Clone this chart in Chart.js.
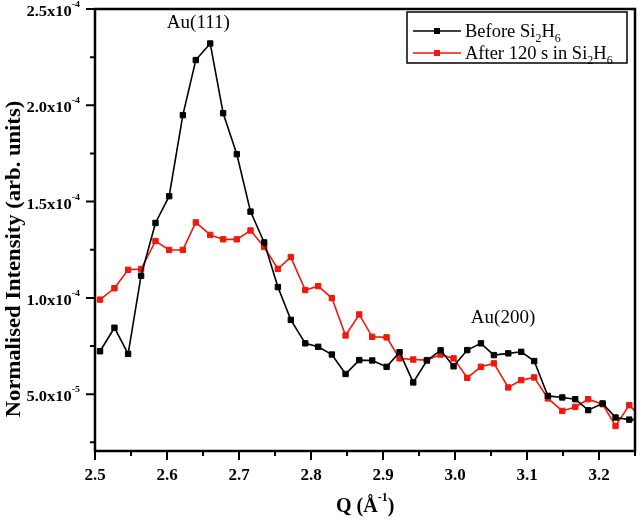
<!DOCTYPE html>
<html>
<head>
<meta charset="utf-8">
<script src="https://cdn.jsdelivr.net/npm/chart.js@4.4.0/dist/chart.umd.min.js"></script>
<style>
  html, body { margin: 0; padding: 0; background: #fff; }
  canvas { display: block; }
</style>
</head>
<body>
<canvas id="xrd-chart" width="640" height="519"></canvas>
<script>
// Q in 1/Angstrom, intensities in units of 1e-5
const qValues = [2.507, 2.527, 2.546, 2.564, 2.584, 2.603, 2.622, 2.640, 2.660, 2.678,
    2.697, 2.716, 2.735, 2.754, 2.772, 2.792, 2.810, 2.829, 2.848, 2.867,
    2.885, 2.905, 2.923, 2.942, 2.961, 2.980, 2.998, 3.017, 3.036, 3.054,
    3.074, 3.092, 3.110, 3.129, 3.149, 3.167, 3.185, 3.205, 3.223, 3.242, 3.261];
const beforeSi2H6 = [7.23, 8.45, 7.09, 11.15, 13.89, 15.28, 19.49, 22.35, 23.21, 19.59,
    17.46, 14.48, 12.88, 10.56, 8.86, 7.64, 7.46, 7.06, 6.05, 6.77,
    6.75, 6.42, 7.18, 5.61, 6.75, 7.28, 6.45, 7.29, 7.64, 7.03,
    7.12, 7.20, 6.72, 4.91, 4.83, 4.74, 4.17, 4.52, 3.79, 3.68, 3.68];
const after120s = [9.91, 10.50, 11.46, 11.50, 12.95, 12.49, 12.49, 13.92, 13.27, 13.04,
    13.04, 13.50, 12.64, 11.51, 12.12, 10.41, 10.61, 9.99, 8.05, 9.14,
    7.98, 7.95, 6.86, 6.80, 6.77, 7.06, 6.86, 5.85, 6.42, 6.60,
    5.35, 5.73, 5.87, 4.78, 4.13, 4.34, 4.74, 4.48, 3.35, 4.43, 3.70];
const seriesNames = ['Before Si_{2}H_{6}', 'After 120 s in Si_{2}H_{6}'];
const seriesColors = ['#000000', '#f0180c'];

const xMajorTicks = [2.5, 2.6, 2.7, 2.8, 2.9, 3.0, 3.1, 3.2];
const xTickLabels = ['2.5', '2.6', '2.7', '2.8', '2.9', '3.0', '3.1', '3.2'];
const xMinorTicks = [2.55, 2.65, 2.75, 2.85, 2.95, 3.05, 3.15, 3.25];
const yMajorTicks = [5e-5, 1e-4, 1.5e-4, 2e-4, 2.5e-4];
const yTickLabels = ['5.0x10^{-5}', '1.0x10^{-4}', '1.5x10^{-4}', '2.0x10^{-4}', '2.5x10^{-4}'];
const yMinorTicks = [2.5e-5, 7.5e-5, 1.25e-4, 1.75e-4, 2.25e-4];

const peakLabels = ['Au(111)', 'Au(200)'];
const peakLabelQ = [2.6435, 3.0667];
const peakLabelY = [24.3, 9.0];

const xTitle = 'Q (Å^{-1})';
const yTitle = 'Normalised Intensity (arb. units)';

const serif = '"Liberation Serif", "Times New Roman", serif';

function toPoints(values) {
    return values.map((v, i) => ({ x: qValues[i], y: v * 1e-5 }));
}

function parseRich(str) {
    const parts = [];
    const re = /([\^_])\{([^}]*)\}/g;
    let last = 0, m;
    while ((m = re.exec(str))) {
        if (m.index > last) parts.push({ text: str.slice(last, m.index), kind: 'base' });
        parts.push({ text: m[2], kind: m[1] === '^' ? 'sup' : 'sub' });
        last = re.lastIndex;
    }
    if (last < str.length) parts.push({ text: str.slice(last), kind: 'base' });
    return parts;
}

function drawRich(ctx, str, x, y, style) {
    const parts = parseRich(str);
    const fontFor = k => `${style.weight} ${k === 'base' ? style.size : style.small}px ${serif}`;
    let width = 0;
    parts.forEach(p => {
        ctx.font = fontFor(p.kind);
        p.w = ctx.measureText(p.text).width;
        width += p.w;
    });
    let cx = style.align === 'right' ? -width : style.align === 'center' ? -width / 2 : 0;
    ctx.save();
    ctx.translate(x, y);
    if (style.rotate) ctx.rotate(style.rotate);
    ctx.scale(style.stretch || 1, 1);
    ctx.fillStyle = '#000';
    ctx.textAlign = 'left';
    ctx.textBaseline = 'alphabetic';
    parts.forEach(p => {
        ctx.font = fontFor(p.kind);
        const dy = p.kind === 'sup' ? -(style.rise || 0) : p.kind === 'sub' ? (style.drop || 0) : 0;
        ctx.fillText(p.text, cx, dy);
        cx += p.w;
    });
    ctx.restore();
}

const framePlugin = {
    id: 'frame',
    afterDraw(chart) {
        const { ctx, chartArea: a, scales: { x, y } } = chart;
        ctx.save();
        ctx.strokeStyle = '#000';

        // ticks, outward
        ctx.lineWidth = 2;
        ctx.beginPath();
        xMajorTicks.forEach(v => {
            const px = x.getPixelForValue(v);
            ctx.moveTo(px, a.bottom); ctx.lineTo(px, a.bottom + 9);
        });
        xMinorTicks.forEach(v => {
            const px = x.getPixelForValue(v);
            ctx.moveTo(px, a.bottom); ctx.lineTo(px, a.bottom + 5);
        });
        yMajorTicks.forEach(v => {
            const py = y.getPixelForValue(v);
            ctx.moveTo(a.left, py); ctx.lineTo(a.left - 9, py);
        });
        yMinorTicks.forEach(v => {
            const py = y.getPixelForValue(v);
            ctx.moveTo(a.left, py); ctx.lineTo(a.left - 5, py);
        });
        ctx.stroke();

        ctx.lineWidth = 2.5;
        ctx.strokeRect(a.left, a.top, a.right - a.left, a.bottom - a.top);

        // tick labels
        ctx.fillStyle = '#000';
        ctx.font = `bold 17px ${serif}`;
        ctx.textAlign = 'center';
        ctx.textBaseline = 'alphabetic';
        xMajorTicks.forEach((v, i) => {
            ctx.fillText(xTickLabels[i], x.getPixelForValue(v), a.bottom + 28.5);
        });
        yMajorTicks.forEach((v, i) => {
            const py = y.getPixelForValue(v);
            drawRich(ctx, yTickLabels[i], 80, py + 7,
                { weight: 'bold', size: 15, small: 9, rise: 9, align: 'right', stretch: 1.1 });
        });

        // axis titles
        drawRich(ctx, xTitle, 336, 512, { weight: 'bold', size: 20, small: 12, rise: 11, align: 'left' });
        drawRich(ctx, yTitle, 19.5, 259,
            { weight: 'bold', size: 20, small: 12, align: 'center', rotate: -Math.PI / 2, stretch: 1.13 });

        // peak annotations
        peakLabels.forEach((t, i) => {
            const px = x.getPixelForValue(peakLabelQ[i]);
            const py = y.getPixelForValue(peakLabelY[i] * 1e-5);
            drawRich(ctx, t, px, py + 6, { weight: 'normal', size: 19, small: 12, align: 'center' });
        });

        // legend box
        ctx.lineWidth = 1.5;
        ctx.strokeRect(407, 12, 220, 51);
        seriesNames.forEach((name, i) => {
            const rowY = 31 + i * 22;
            ctx.strokeStyle = seriesColors[i];
            ctx.fillStyle = seriesColors[i];
            ctx.lineWidth = 1.6;
            ctx.beginPath();
            ctx.moveTo(413, rowY); ctx.lineTo(461, rowY);
            ctx.stroke();
            ctx.fillRect(434, rowY - 3, 6, 6);
            drawRich(ctx, name, 465, rowY + 6,
                { weight: 'normal', size: 18.5, small: 12, drop: 5, align: 'left' });
        });
        ctx.restore();
    }
};

function renderChart() {
    const ctx = document.getElementById('xrd-chart').getContext('2d');
    const datasets = [beforeSi2H6, after120s].map((values, i) => ({
        label: seriesNames[i],
        data: toPoints(values),
        borderColor: seriesColors[i],
        backgroundColor: seriesColors[i],
        borderWidth: 1.6,
        pointStyle: 'rect',
        pointRadius: 3.8,
        pointBorderWidth: 1,
        tension: 0,
        fill: false
    }));
    new Chart(ctx, {
        type: 'line',
        data: { datasets },
        options: {
            responsive: false,
            animation: false,
            devicePixelRatio: 1,
            layout: { padding: { top: 9, right: 1, left: 0, bottom: 0 } },
            plugins: { legend: { display: false }, tooltip: { enabled: false } },
            scales: {
                x: {
                    type: 'linear', min: 2.5, max: 3.25,
                    grid: { display: false }, border: { display: false }, ticks: { display: false },
                    afterFit: s => { s.height = 68; }
                },
                y: {
                    type: 'linear', min: 2.05e-5, max: 2.5e-4,
                    grid: { display: false }, border: { display: false }, ticks: { display: false },
                    afterFit: s => { s.width = 95; }
                }
            }
        },
        plugins: [framePlugin]
    });
}

renderChart();
</script>
</body>
</html>
